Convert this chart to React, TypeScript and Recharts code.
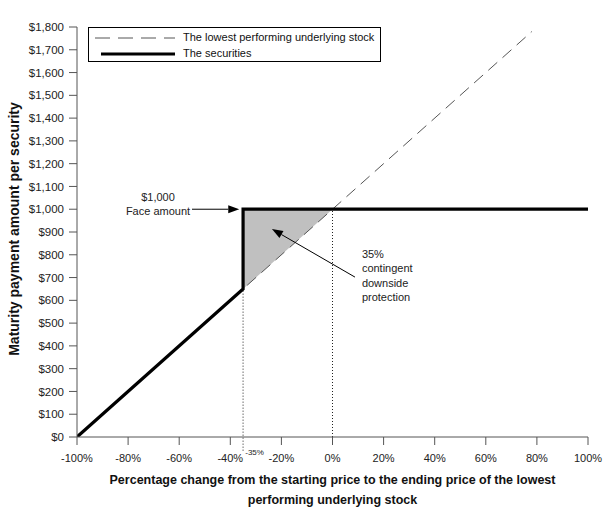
import {
  ComposedChart,
  Line,
  Area,
  XAxis,
  YAxis,
  ReferenceLine,
  ReferenceDot,
} from "recharts";

// percentage change of the lowest performing stock (x) vs payment per security (y)
const stockPath = [
  { x: -100, y: 0 },
  { x: 78, y: 1780 },
];
const securitiesPath = [
  { x: -100, y: 0 },
  { x: -35, y: 650 },
  { x: -35, y: 1000 },
  { x: 100, y: 1000 },
];
const protectionZone = [
  { x: -35, y: [650, 1000] },
  { x: 0, y: [1000, 1000] },
];
const xTicks = [-100, -80, -60, -40, -20, 0, 20, 40, 60, 80, 100];
const yTicks = [0, 100, 200, 300, 400, 500, 600, 700, 800, 900, 1000, 1100, 1200, 1300, 1400, 1500, 1600, 1700, 1800];
const barrier = -35;
const faceAmount = 1000;

const FONT = '"Liberation Sans", Arial, sans-serif';

function money(v: number): string {
  return "$" + v.toLocaleString("en-US");
}

// arrow drawn from segment start to segment end
function Arrow(props: any) {
  const { x1, y1, x2, y2 } = props;
  const a = Math.atan2(y2 - y1, x2 - x1);
  const len = 11;
  const w = 4;
  const bx = x2 - len * Math.cos(a);
  const by = y2 - len * Math.sin(a);
  const px = -Math.sin(a) * w;
  const py = Math.cos(a) * w;
  return (
    <g>
      <line x1={x1} y1={y1} x2={bx} y2={by} stroke="#000" strokeWidth={1} />
      <polygon
        points={`${x2},${y2} ${bx + px},${by + py} ${bx - px},${by - py}`}
        fill="#000"
      />
    </g>
  );
}

function multiLine(lines: string[], anchor: string, dy: number) {
  return (props: any) => {
    const { viewBox } = props;
    return (
      <text
        x={viewBox.x}
        y={viewBox.y}
        textAnchor={anchor}
        fontFamily={FONT}
        fontSize={11}
        fill="#222"
      >
        {lines.map((l, i) => (
          <tspan key={i} x={viewBox.x} dy={i === 0 ? 0 : dy}>
            {l}
          </tspan>
        ))}
      </text>
    );
  };
}

function LegendBox() {
  return (
    <div
      style={{
        position: "absolute",
        left: 88,
        top: 27,
        width: 291,
        height: 33,
        border: "1px solid #000",
        background: "#fff",
        fontFamily: FONT,
        fontSize: 11,
        color: "#111",
      }}
    >
      <svg width={90} height={33} style={{ position: "absolute", left: 0, top: 0 }}>
        <line x1={6} y1={10} x2={86} y2={10} stroke="#555" strokeWidth={1} strokeDasharray="15 8" />
        <line x1={12} y1={26} x2={86} y2={26} stroke="#000" strokeWidth={3} />
      </svg>
      <div style={{ position: "absolute", left: 94, top: 3 }}>The lowest performing underlying stock</div>
      <div style={{ position: "absolute", left: 94, top: 19 }}>The securities</div>
    </div>
  );
}

export default function App() {
  return (
    <div style={{ position: "absolute", left: 0, top: 0, width: 611, height: 512, background: "#fff" }}>
      <ComposedChart
        width={611}
        height={512}
        margin={{ top: 27, right: 23, left: 0, bottom: 0 }}
      >
        <XAxis
          dataKey="x"
          type="number"
          domain={[-100, 100]}
          ticks={xTicks}
          interval={0}
          allowDataOverflow
          height={75}
          tickSize={8}
          tickMargin={9}
          stroke="#555"
          tick={{ fontSize: 11, fill: "#222", fontFamily: FONT }}
          tickFormatter={(v) => `${v}%`}
          label={{
            content: (p: any) => {
              const vb = p.viewBox;
              const cx = vb.x + vb.width / 2;
              return (
                <text x={cx} y={vb.y + 47} textAnchor="middle" fontFamily={FONT} fontSize={12.5} fontWeight="bold" fill="#111">
                  <tspan x={cx}>Percentage change from the starting price to the ending price of the lowest</tspan>
                  <tspan x={cx} dy={20}>performing underlying stock</tspan>
                </text>
              );
            },
          }}
        />
        <YAxis
          type="number"
          domain={[0, 1800]}
          ticks={yTicks}
          interval={0}
          allowDataOverflow
          width={77}
          tickSize={8}
          tickMargin={5}
          stroke="#555"
          tick={{ fontSize: 11.5, fill: "#222", fontFamily: FONT }}
          tickFormatter={money}
          label={{
            content: (p: any) => {
              const vb = p.viewBox;
              const cy = vb.y + vb.height / 2 - 3;
              return (
                <text
                  x={19}
                  y={cy}
                  transform={`rotate(-90 19 ${cy})`}
                  textAnchor="middle"
                  fontFamily={FONT}
                  fontSize={14}
                  fontWeight="bold"
                  fill="#111"
                >
                  Maturity payment amount per security
                </text>
              );
            },
          }}
        />
        <Area
          data={protectionZone}
          dataKey="y"
          type="linear"
          fill="#c0c0c0"
          fillOpacity={1}
          stroke="none"
          isAnimationActive={false}
        />
        <ReferenceLine
          segment={[{ x: barrier, y: -60 }, { x: barrier, y: 650 }]}
          stroke="#222"
          strokeDasharray="1 2"
          ifOverflow="visible"
        />
        <ReferenceLine
          segment={[{ x: 0, y: 0 }, { x: 0, y: faceAmount }]}
          stroke="#222"
          strokeDasharray="1 2"
        />
        <Line
          data={stockPath}
          dataKey="y"
          type="linear"
          stroke="#555"
          strokeWidth={1}
          strokeDasharray="12 7"
          dot={false}
          isAnimationActive={false}
        />
        <Line
          data={securitiesPath}
          dataKey="y"
          type="linear"
          stroke="#000"
          strokeWidth={3.2}
          dot={false}
          isAnimationActive={false}
        />
        <ReferenceLine
          segment={[{ x: -55, y: faceAmount }, { x: -36.5, y: faceAmount }]}
          shape={Arrow}
        />
        <ReferenceLine
          segment={[{ x: 8.8, y: 702 }, { x: -23.7, y: 913 }]}
          shape={Arrow}
        />
        <ReferenceDot
          x={-68.3}
          y={1036}
          r={0}
          stroke="none"
          label={{ content: multiLine(["$1,000", "Face amount"], "middle", 14) }}
        />
        <ReferenceDot
          x={11.5}
          y={786}
          r={0}
          stroke="none"
          label={{ content: multiLine(["35%", "contingent", "downside", "protection"], "start", 14.5) }}
        />
        <ReferenceDot
          x={-30.5}
          y={-78}
          r={0}
          stroke="none"
          ifOverflow="visible"
          label={{
            content: (p: any) => (
              <text x={p.viewBox.x} y={p.viewBox.y} textAnchor="middle" fontFamily={FONT} fontSize={8} fill="#222">
                -35%
              </text>
            ),
          }}
        />
      </ComposedChart>
      <LegendBox />
    </div>
  );
}
